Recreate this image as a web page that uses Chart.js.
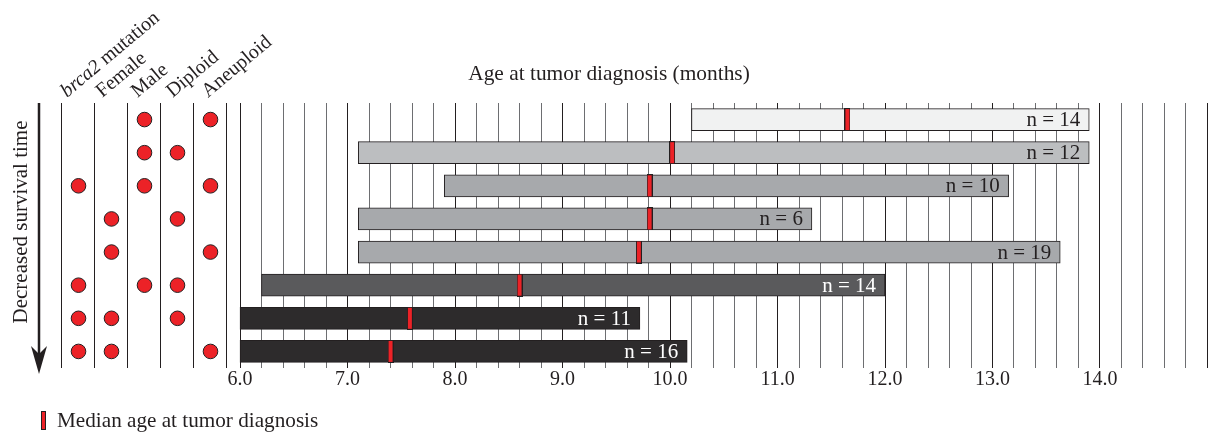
<!DOCTYPE html>
<html><head><meta charset="utf-8">
<script src="https://cdn.jsdelivr.net/npm/chart.js@4.4.0/dist/chart.umd.min.js"></script>
<style>html,body{margin:0;padding:0;background:#fff}#wrap{width:1213px;height:434px}</style>
</head><body><div id="wrap"><canvas id="c" width="1213" height="434"></canvas></div>
<script>
// ---------- data ----------
const rows = ['r1','r2','r3','r4','r5','r6','r7','r8'];
const barStart = [10.2, 7.1, 7.9, 7.1, 7.1, 6.2, 6.0, 6.0];
const barEnd   = [13.9, 13.9, 13.15, 11.32, 13.63, 12.0, 9.72, 10.16];
const medians  = [11.65, 10.02, 9.81, 9.81, 9.71, 8.6, 7.58, 7.4];
const counts   = [14, 12, 10, 6, 19, 14, 11, 16];
const traits   = ['brca2 mutation','Female','Male','Diploid','Aneuploid'];
const traitFlags = [
  [0,0,1,0,1],
  [0,0,1,1,0],
  [1,0,1,0,1],
  [0,1,0,1,0],
  [0,1,0,0,1],
  [1,0,1,1,0],
  [1,1,0,1,0],
  [1,1,0,0,1]
];
const tickLabels = ['6.0','7.0','8.0','9.0','10.0','11.0','12.0','13.0','14.0'];
const xTitle = 'Age at tumor diagnosis (months)';
const yTitle = 'Decreased survival time';
const legendText = 'Median age at tumor diagnosis';

// ---------- styles ----------
const barColors = ['#f1f2f2','#bcbec0','#a7a9ac','#a7a9ac','#a7a9ac','#5a5a5c','#2d2b2c','#2d2b2c'];
const labelColors = ['#231f20','#231f20','#231f20','#231f20','#231f20','#ffffff','#ffffff','#ffffff'];
const INK = '#231f20';
const MINOR = '#6d6e71';
const RED = '#ec2227';
const FONT = "'Liberation Serif', 'DejaVu Serif', serif";

// grid lines every 0.2 from 6.0 to 15.0
const gridVals = [];
for (let k = 0; k <= 45; k++) gridVals.push(Math.round((6 + k * 0.2) * 10) / 10);
const isMajor = v => Math.abs(v - Math.round(v)) < 1e-6;

// median marker image
const mk = document.createElement('canvas');
mk.width = 6; mk.height = 23;
(function(){ const g = mk.getContext('2d'); g.fillStyle = INK; g.fillRect(0,0,6,23); g.fillStyle = RED; g.fillRect(1,1,4,21); })();

// dots
const dots = [];
traitFlags.forEach((f, i) => f.forEach((on, j) => { if (on) dots.push({x: j, y: rows[i]}); }));

const decor = {
  id: 'decor',
  afterDatasetsDraw(chart) {
    const ctx = chart.ctx, a = chart.chartArea;
    ctx.save();
    // n labels inside bars
    const meta = chart.getDatasetMeta(0);
    ctx.font = '21px ' + FONT;
    ctx.textAlign = 'right';
    ctx.textBaseline = 'middle';
    meta.data.forEach((el, i) => {
      ctx.fillStyle = labelColors[i];
      ctx.fillText('n = ' + counts[i], el.x - 9, el.y + 1);
    });
    // arrow
    const ax = a.left;
    ctx.strokeStyle = INK; ctx.fillStyle = INK;
    ctx.lineWidth = 2.5;
    ctx.beginPath(); ctx.moveTo(ax, a.top); ctx.lineTo(ax, a.bottom - 4); ctx.stroke();
    ctx.beginPath();
    ctx.moveTo(ax, a.bottom + 6);
    ctx.lineTo(ax - 8, a.bottom - 22);
    ctx.lineTo(ax, a.bottom - 14);
    ctx.lineTo(ax + 8, a.bottom - 22);
    ctx.closePath(); ctx.fill();
    // y title
    ctx.save();
    ctx.translate(27, 222);
    ctx.rotate(-Math.PI / 2);
    ctx.textAlign = 'center'; ctx.textBaseline = 'alphabetic';
    ctx.font = '21px ' + FONT;
    ctx.fillText(yTitle, 0, 0);
    ctx.restore();
    // x title
    ctx.textAlign = 'center'; ctx.textBaseline = 'alphabetic';
    ctx.font = '21.4px ' + FONT;
    ctx.fillText(xTitle, 609, 80);
    // column headers
    const xd = chart.scales.xd;
    traits.forEach((t, j) => {
      const cx = xd.getPixelForValue(j);
      ctx.save();
      ctx.translate(cx - 11.5 + 2.25 * j, 98);
      ctx.rotate(-40 * Math.PI / 180);
      ctx.textAlign = 'left'; ctx.textBaseline = 'alphabetic';
      if (j === 0) {
        const parts = t.split(' ');
        ctx.font = 'italic 20px ' + FONT;
        ctx.fillText(parts[0], 0, 0);
        const w = ctx.measureText(parts[0]).width;
        ctx.font = '20px ' + FONT;
        ctx.fillText(' ' + parts.slice(1).join(' '), w, 0);
      } else {
        ctx.font = '20px ' + FONT;
        ctx.fillText(t, 0, 0);
      }
      ctx.restore();
    });
    // legend
    ctx.fillStyle = INK; ctx.fillRect(41, 411, 5, 19);
    ctx.fillStyle = RED; ctx.fillRect(42, 412, 3, 17);
    ctx.fillStyle = INK;
    ctx.textAlign = 'left'; ctx.textBaseline = 'alphabetic';
    ctx.font = '21.2px ' + FONT;
    ctx.fillText(legendText, 57, 427);
    ctx.restore();
  }
};

new Chart(document.getElementById('c'), {
  type: 'bar',
  data: {
    labels: rows,
    datasets: [
      {
        type: 'bar', indexAxis: 'y', xAxisID: 'x', yAxisID: 'y',
        data: barStart.map((s, i) => [s, barEnd[i]]),
        backgroundColor: barColors, borderColor: INK, borderWidth: 1,
        borderSkipped: false, barThickness: 22, grouped: false, order: 3
      },
      {
        type: 'scatter', xAxisID: 'x', yAxisID: 'y',
        data: medians.map((m, i) => ({x: m, y: rows[i]})),
        pointStyle: mk, pointRadius: 3, order: 2
      },
      {
        type: 'scatter', xAxisID: 'xd', yAxisID: 'y',
        data: dots,
        pointStyle: 'circle', pointRadius: 7.3, borderWidth: 1,
        borderColor: INK, backgroundColor: RED, order: 1
      }
    ]
  },
  options: {
    responsive: false, animation: false, devicePixelRatio: 1,
    layout: {padding: {left: 39, right: 3, top: 103, bottom: 0}},
    plugins: {legend: {display: false}, tooltip: {enabled: false}},
    scales: {
      x: {
        type: 'linear', position: 'bottom', min: 4.13, max: 14.974, offset: false,
        afterBuildTicks: s => { s.ticks = gridVals.map(v => ({value: v})); },
        afterFit: s => { s.height = 66; s.paddingLeft = 0; s.paddingRight = 0; },
        grid: {
          offset: false,
          color: c => (c.tick && !isMajor(c.tick.value)) ? MINOR : INK,
          lineWidth: 1, drawTicks: false
        },
        border: {display: false},
        ticks: {
          autoSkip: false, maxRotation: 0, padding: 0, color: INK,
          font: {family: FONT, size: 20, lineHeight: 1.2},
          callback: v => {
            if (!isMajor(v)) return '';
            const idx = Math.round(v) - 6;
            return idx >= 0 && idx < tickLabels.length ? tickLabels[idx] : '';
          }
        }
      },
      xd: {
        type: 'linear', position: 'bottom', min: -1.197, max: 34.13, offset: false,
        afterBuildTicks: s => { s.ticks = [-0.5, 0.5, 1.5, 2.5, 3.5, 4.5].map(v => ({value: v})); },
        afterFit: s => { s.height = 0; s.paddingLeft = 0; s.paddingRight = 0; },
        grid: {offset: false, color: INK, lineWidth: 1, drawTicks: false},
        border: {display: false},
        ticks: {display: false}
      },
      y: {type: 'category', labels: rows, display: false, offset: true}
    }
  },
  plugins: [decor]
});
</script>
</body></html>
